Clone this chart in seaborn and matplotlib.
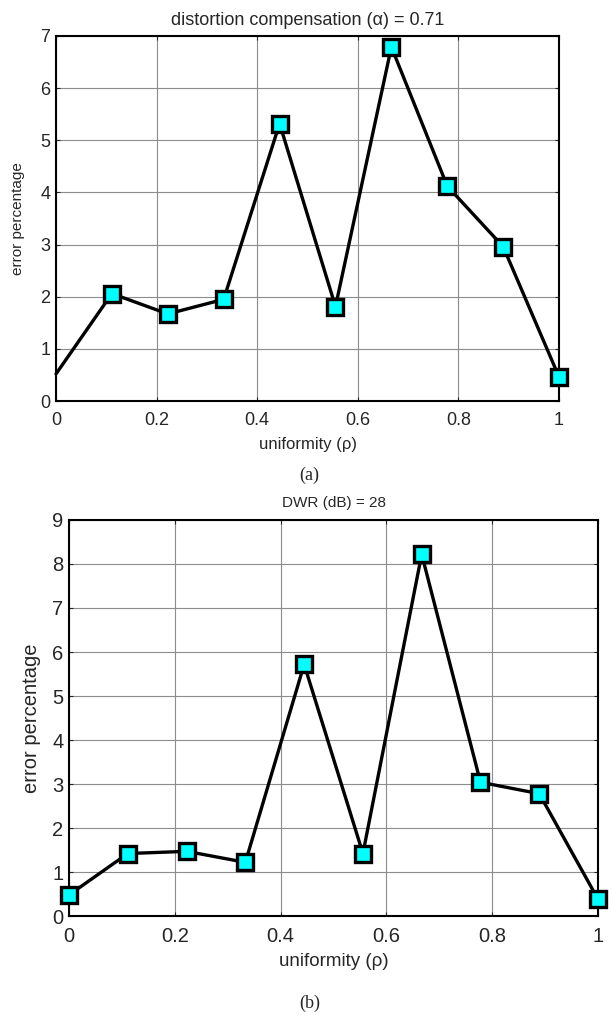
import numpy as np
import pandas as pd
import matplotlib
matplotlib.use("Agg")
import matplotlib.pyplot as plt
import seaborn as sns

sns.set_style("white")
plt.rcParams['font.family'] = ['Liberation Sans', 'DejaVu Sans']

# ---- data ----
uniformity = [0.0, 1/9, 2/9, 3/9, 4/9, 5/9, 6/9, 7/9, 8/9, 1.0]
err_a = [0.52, 2.06, 1.67, 1.95, 5.32, 1.81, 6.79, 4.12, 2.96, 0.46]
err_b = [0.48, 1.42, 1.47, 1.22, 5.72, 1.42, 8.22, 3.04, 2.78, 0.38]
xticks = [0, 0.2, 0.4, 0.6, 0.8, 1]
xtick_labels = ["0", "0.2", "0.4", "0.6", "0.8", "1"]
yticks_a = [0, 1, 2, 3, 4, 5, 6, 7]
yticks_b = [0, 1, 2, 3, 4, 5, 6, 7, 8, 9]
title_a = "distortion compensation (α) = 0.71"
title_b = "DWR (dB) = 28"
xlabel = "uniformity (ρ)"
ylabel = "error percentage"

fig = plt.figure(figsize=(6.13, 10.16), dpi=100)
ax1 = fig.add_axes([0.0914, 0.6053, 0.8206, 0.3593])
ax2 = fig.add_axes([0.1126, 0.0984, 0.8630, 0.3898])

def draw(ax, y, yticks, title, markevery, tick_fs, xlab_fs, ylab_fs, title_fs,
         ms, tpad, xlpad, ylpad, title_pad):
    df = pd.DataFrame({"x": uniformity, "y": y})
    sns.lineplot(data=df, x="x", y="y", ax=ax, color="black", linewidth=2.4,
                 marker="s", markersize=ms, markerfacecolor="#00FFFF",
                 markeredgecolor="black", markeredgewidth=2.4,
                 markevery=markevery, clip_on=False, zorder=5)
    ax.set_xlim(0, 1)
    ax.set_ylim(0, yticks[-1])
    ax.set_xticks(xticks)
    ax.set_xticklabels(xtick_labels)
    ax.set_yticks(yticks)
    ax.grid(True, color="#8c8c8c", linewidth=0.8)
    ax.set_axisbelow(True)
    ax.tick_params(direction="in", length=3, width=0.8, labelsize=tick_fs,
                   top=True, right=True, bottom=True, left=True)
    ax.tick_params(axis="x", pad=tpad)
    ax.tick_params(axis="y", pad=4)
    for s in ax.spines.values():
        s.set_color("black")
        s.set_linewidth(1.5)
        s.set_visible(True)
    ax.set_title(title, fontsize=title_fs, pad=title_pad)
    ax.set_xlabel(xlabel, fontsize=xlab_fs, labelpad=xlpad)
    ax.set_ylabel(ylabel, fontsize=ylab_fs, labelpad=ylpad)

draw(ax1, err_a, yticks_a, title_a, list(range(1, 10)), tick_fs=13,
     xlab_fs=12, ylab_fs=11, title_fs=13, ms=11, tpad=8, xlpad=6,
     ylpad=11, title_pad=8)
draw(ax2, err_b, yticks_b, title_b, list(range(0, 10)), tick_fs=14.5,
     xlab_fs=13.5, ylab_fs=14.5, title_fs=11, ms=12, tpad=8, xlpad=5,
     ylpad=8, title_pad=9)

fig.text(0.505, 1 - 475/1016, "(a)", ha="center", va="center",
         fontsize=13, family="Liberation Serif")
fig.text(0.505, 1 - 1003/1016, "(b)", ha="center", va="center",
         fontsize=13, family="Liberation Serif")

fig.savefig("out.png", dpi=100, facecolor="white")
